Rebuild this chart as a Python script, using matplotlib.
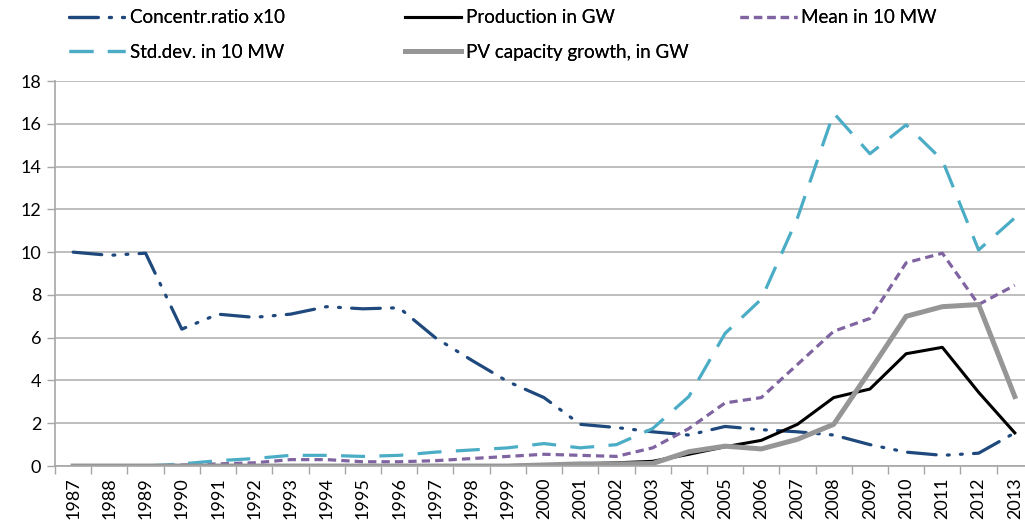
import numpy as np
import matplotlib
from matplotlib import pyplot as plt

matplotlib.rc('font', family=['Lato', 'DejaVu Sans'])

years = list(range(1987, 2014))
concentr = [10.0, 9.85, 9.95, 6.4, 7.1, 6.95, 7.1, 7.45, 7.35, 7.4, 6.0, 4.95, 3.95,
            3.2, 1.95, 1.8, 1.6, 1.45, 1.85, 1.7, 1.6, 1.45, 1.0, 0.65, 0.5, 0.6, 1.55]
production = [0, 0, 0, 0, 0, 0, 0, 0, 0, 0, 0, 0, 0.02,
              0.05, 0.1, 0.15, 0.22, 0.55, 0.9, 1.2, 1.95, 3.2, 3.6, 5.25, 5.55, 3.45, 1.55]
mean_10mw = [0, 0, 0, 0.05, 0.1, 0.15, 0.3, 0.3, 0.2, 0.2, 0.25, 0.35, 0.45,
             0.55, 0.5, 0.45, 0.85, 1.75, 2.95, 3.2, 4.75, 6.3, 6.9, 9.5, 9.95, 7.55, 8.45]
std_10mw = [0, 0, 0, 0.1, 0.25, 0.35, 0.5, 0.5, 0.45, 0.5, 0.65, 0.75, 0.85,
            1.05, 0.85, 1.0, 1.75, 3.25, 6.2, 7.8, 11.6, 16.5, 14.6, 15.95, 14.3, 10.1, 11.6]
pv_growth = [0, 0, 0, 0, 0, 0, 0, 0, 0, 0, 0, 0, 0,
             0.05, 0.1, 0.1, 0.12, 0.67, 0.93, 0.8, 1.25, 1.95, 4.45, 7.0, 7.45, 7.55, 3.25]

x = np.arange(len(years))

fig = plt.figure(figsize=(10.25, 5.26), dpi=100)
ax = fig.add_axes([0.0537, 0.114, 0.954, 0.732])

l1, = ax.plot(x, concentr, color='#1F497D', lw=2.3, dashes=(9, 3.5, 0.6, 3.5, 0.6, 3.5),
              dash_capstyle='round', label='Concentr.ratio x10')
l2, = ax.plot(x, production, color='black', lw=2.2, label='Production in GW')
l3, = ax.plot(x, mean_10mw, color='#8064A2', lw=2.3, dashes=(2.6, 1.6), label='Mean in 10 MW')
l4, = ax.plot(x, std_10mw, color='#4BACC6', lw=2.3, dashes=(7.5, 4.5), label='Std.dev. in 10 MW')
l5, = ax.plot(x, pv_growth, color='#969696', lw=3.6, label='PV capacity growth, in GW')

ax.set_xlim(-0.5, len(years) - 0.5)
ax.set_ylim(0, 18)
ax.set_yticks(range(0, 19, 2))
ax.set_xticks(x)
ax.set_xticklabels([str(y) for y in years], rotation=90, fontsize=13)
ax.set_xticks(np.arange(-0.5, len(years), 1), minor=True)
ax.tick_params(axis='x', which='major', length=0, pad=8)
ax.tick_params(axis='x', which='minor', length=6, color='#A6A6A6', width=1)
ax.tick_params(axis='y', length=6, color='#A6A6A6', width=1, labelsize=13, pad=4)

ax.grid(axis='y', color='#B3B3B3', lw=1.2)
ax.set_axisbelow(True)
for s in ['top', 'right']:
    ax.spines[s].set_visible(False)
for s in ['left', 'bottom']:
    ax.spines[s].set_color('#A6A6A6')
    ax.spines[s].set_linewidth(1.2)

# legend columns placed separately (fixed-width columns, like the original)
columns = [([l1, l4], 0.060), ([l2, l5], 0.388), ([l3], 0.715)]
for handles, xpos in columns:
    leg = fig.legend(handles, [h.get_label() for h in handles],
                     loc='upper left', bbox_to_anchor=(xpos, 0.997), frameon=False,
                     fontsize=13.5, handlelength=3.0, handletextpad=0.25,
                     labelspacing=0.95, borderaxespad=0)
    fig.add_artist(leg)

fig.savefig('out.png', dpi=100)
